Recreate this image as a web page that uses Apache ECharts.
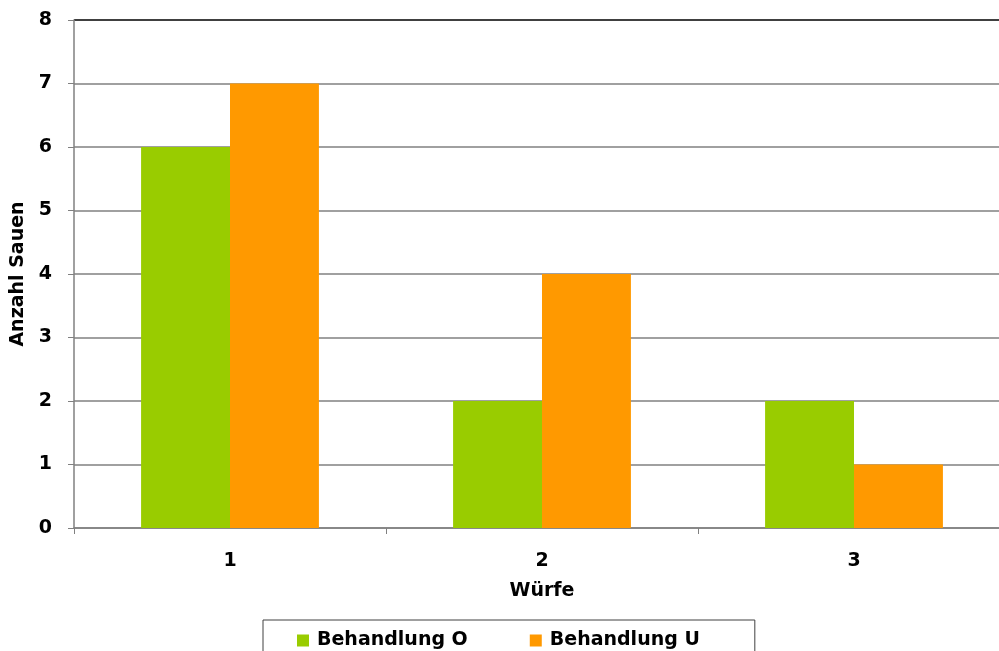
<!DOCTYPE html>
<html>
<head>
<meta charset="utf-8">
<script src="https://cdn.jsdelivr.net/npm/echarts@6/dist/echarts.min.js"></script>
<style>
html,body{margin:0;padding:0;background:#fff;}
#chart{width:999px;height:651px;}
</style>
</head>
<body>
<div id="chart"></div>
<script>
const categories = ['1', '2', '3'];
const seriesNames = ['Behandlung O', 'Behandlung U'];
const valuesO = [6, 2, 2];
const valuesU = [7, 4, 1];
const yTicks = [0, 1, 2, 3, 4, 5, 6, 7, 8];

const FONT = 'DejaVu Sans';
const chart = echarts.init(document.getElementById('chart'), null, {renderer: 'canvas'});
const gridColors = yTicks.map((v, i) => i === yTicks.length - 1 ? '#000000' : '#808080');

chart.setOption({
  animation: false,
  backgroundColor: '#ffffff',
  grid: {left: 74, top: 20, width: 936, bottom: 123, containLabel: false, outerBoundsMode: 'none'},
  legend: {
    data: seriesNames,
    left: 263,
    top: 620,
    itemWidth: 12,
    itemHeight: 12,
    itemGap: 62,
    padding: [11, 55, 10, 34],
    borderColor: '#404040',
    borderWidth: 1,
    icon: 'rect',
    textStyle: {fontFamily: FONT, fontWeight: 'bold', fontSize: 19, color: '#000', padding: [0, 0, 0, 3]}
  },
  xAxis: {
    type: 'category',
    data: categories,
    name: 'Würfe',
    nameLocation: 'middle',
    nameGap: 54,
    nameTextStyle: {fontFamily: FONT, fontWeight: 'bold', fontSize: 19, color: '#000'},
    axisLine: {show: true, lineStyle: {color: '#808080', width: 1.5}},
    axisTick: {show: true, alignWithLabel: false, length: 6, lineStyle: {color: '#808080'}},
    axisLabel: {fontFamily: FONT, fontWeight: 'bold', fontSize: 19, color: '#000', margin: 24}
  },
  yAxis: {
    type: 'value',
    min: 0,
    max: 8,
    interval: 1,
    name: 'Anzahl Sauen',
    nameLocation: 'middle',
    nameGap: 43,
    nameRotate: 90,
    nameTextStyle: {fontFamily: FONT, fontWeight: 'bold', fontSize: 19, color: '#000'},
    axisLine: {show: true, lineStyle: {color: '#808080', width: 1.5}},
    axisTick: {show: true, length: 6, lineStyle: {color: '#808080'}},
    axisLabel: {fontFamily: FONT, fontWeight: 'bold', fontSize: 19, color: '#000', margin: 22, align: 'right',
      formatter: v => String(v)},
    splitLine: {show: true, lineStyle: {color: gridColors, width: 1.5}}
  },
  series: [
    {name: seriesNames[0], type: 'bar', data: valuesO, barGap: '0%', barCategoryGap: '43%',
     itemStyle: {color: '#99CC00'}},
    {name: seriesNames[1], type: 'bar', data: valuesU, barGap: '0%', barCategoryGap: '43%',
     itemStyle: {color: '#FF9900'}}
  ]
});
</script>
</body>
</html>
